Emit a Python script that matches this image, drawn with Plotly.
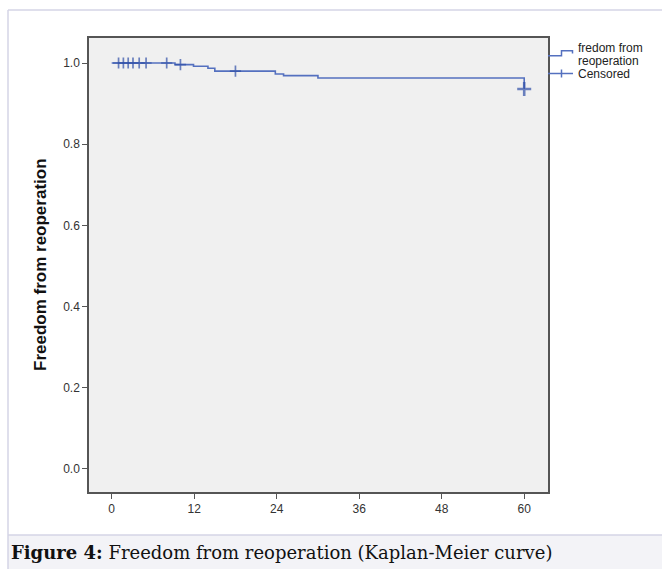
import plotly.graph_objects as go

# Kaplan-Meier step data (months, survival)
event_times = [0, 9.2, 11.9, 14.0, 15.0, 23.8, 25.0, 30.0, 60.0]
survival = [1.0, 0.996, 0.992, 0.987, 0.980, 0.973, 0.969, 0.963, 0.936]

# Censored observations
censor_times = [1.0, 1.7, 2.4, 3.1, 4.0, 5.0, 8.0, 10.0, 18.0, 60.0]
censor_surv = [1.0, 1.0, 1.0, 1.0, 1.0, 1.0, 1.0, 0.996, 0.980, 0.936]

x_ticks = [0, 12, 24, 36, 48, 60]
y_ticks = [0.0, 0.2, 0.4, 0.6, 0.8, 1.0]

W, H = 662, 569
L, R, T, B = 89, 548, 38, 492


def px(X):
    return (X - L) / (R - L)


def py(Y):
    return (B - Y) / (B - T)


line_col = "#5470bf"
mark_col = "#3150a8"

fig = go.Figure()
fig.add_trace(go.Scatter(
    x=event_times, y=survival, mode="lines", line_shape="hv",
    line=dict(color=line_col, width=1.6), showlegend=False, hoverinfo="skip"))

sizes = [8] * (len(censor_times) - 1) + [10]
widths = [1.7] * (len(censor_times) - 1) + [2.6]
fig.add_trace(go.Scatter(
    x=censor_times, y=censor_surv, mode="markers",
    marker=dict(symbol="cross-thin", size=sizes, color=mark_col,
                line=dict(color=mark_col, width=widths)),
    showlegend=False, hoverinfo="skip"))

axis_common = dict(showline=True, mirror=True, linecolor="#555555", linewidth=1.5,
                   showgrid=False, zeroline=False, ticks="outside", ticklen=5,
                   tickwidth=1.3, tickcolor="#555555",
                   tickfont=dict(family="Liberation Sans, Arial, sans-serif", size=12, color="#333333"))

fig.update_xaxes(range=[-3.3, 63.46], tickvals=x_ticks, ticktext=[str(v) for v in x_ticks], **axis_common)
fig.update_yaxes(range=[-0.0567, 1.0616], tickvals=y_ticks, ticktext=[f"{v:.1f}" for v in y_ticks], **axis_common)

shapes = []
frame_col = "#d4d4e6"
# outer frame
shapes.append(dict(type="line", xref="paper", yref="paper", x0=px(8), x1=px(8), y0=py(10), y1=py(569),
                   line=dict(color=frame_col, width=1.5), layer="above"))
shapes.append(dict(type="line", xref="paper", yref="paper", x0=px(8), x1=px(662), y0=py(10), y1=py(10),
                   line=dict(color=frame_col, width=1.5), layer="above"))
# caption box
shapes.append(dict(type="rect", xref="paper", yref="paper", x0=px(8), x1=px(663), y0=py(535), y1=py(570),
                   fillcolor="#f3f3f7", line=dict(width=0), layer="below"))
shapes.append(dict(type="line", xref="paper", yref="paper", x0=px(8), x1=px(662), y0=py(535), y1=py(535),
                   line=dict(color=frame_col, width=1.5), layer="above"))
# legend symbols
shapes.append(dict(type="path", xref="paper", yref="paper",
                   path=f"M {px(548)},{py(55.7)} L {px(561.5)},{py(55.7)} L {px(561.5)},{py(50.7)} "
                        f"L {px(572.5)},{py(50.7)} L {px(572.5)},{py(53.5)}",
                   line=dict(color=line_col, width=1.5)))
shapes.append(dict(type="line", xref="paper", yref="paper", x0=px(548), x1=px(573), y0=py(73.5), y1=py(73.5),
                   line=dict(color=line_col, width=1.5)))
shapes.append(dict(type="line", xref="paper", yref="paper", x0=px(561.5), x1=px(561.5), y0=py(69.5), y1=py(77.5),
                   line=dict(color=line_col, width=1.5)))

leg_font = dict(family="Liberation Sans, Arial, sans-serif", size=12, color="#222222")
annotations = [
    dict(text="fredom from", x=px(576), y=py(48.3), xref="paper", yref="paper", xanchor="left",
         yanchor="middle", showarrow=False, font=leg_font),
    dict(text="reoperation", x=px(576), y=py(61), xref="paper", yref="paper", xanchor="left",
         yanchor="middle", showarrow=False, font=leg_font),
    dict(text="Censored", x=px(576), y=py(74), xref="paper", yref="paper", xanchor="left",
         yanchor="middle", showarrow=False, font=leg_font),
    dict(text="<b>Freedom from reoperation</b>", x=px(40), y=py(265), xref="paper", yref="paper",
         xanchor="center", yanchor="middle", textangle=-90, showarrow=False,
         font=dict(family="Liberation Sans, Arial, sans-serif", size=17, color="#111111")),
    dict(text="<b>Figure 4:</b> Freedom from reoperation (Kaplan-Meier curve)", x=px(9), y=py(552),
         xref="paper", yref="paper", xanchor="left", yanchor="middle", showarrow=False,
         font=dict(family="DejaVu Serif, serif", size=18, color="#111111")),
]

fig.update_layout(width=W, height=H, margin=dict(l=L, r=W - R, t=T, b=H - B),
                  paper_bgcolor="white", plot_bgcolor="#f0f0f0",
                  shapes=shapes, annotations=annotations, showlegend=False)

fig.write_html("out.html")
